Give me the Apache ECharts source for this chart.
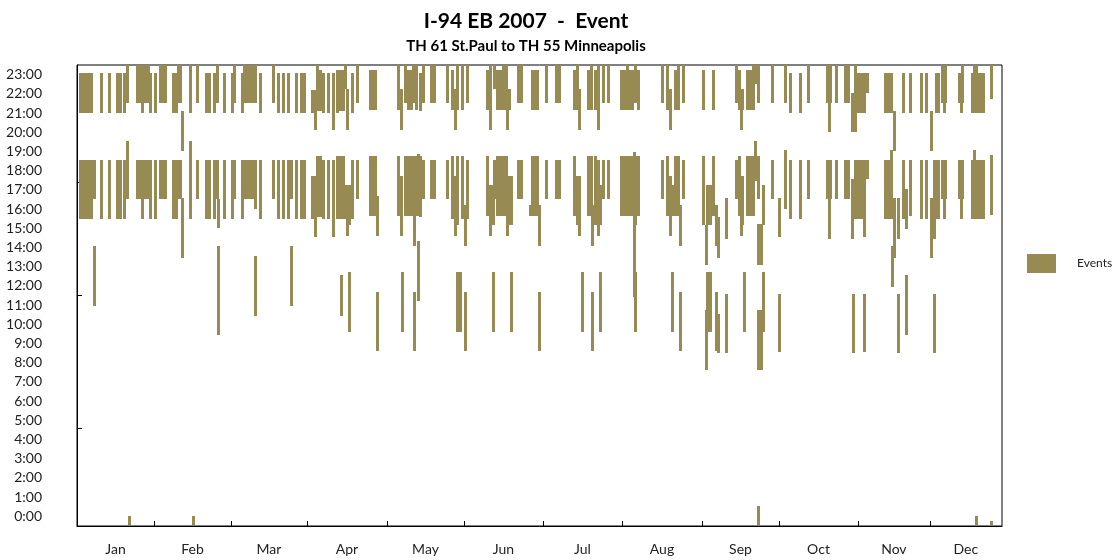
<!DOCTYPE html>
<html><head><meta charset="utf-8">
<script src="https://cdn.jsdelivr.net/npm/echarts@6/dist/echarts.min.js"></script>
<style>html,body{margin:0;padding:0;background:#fff}#c{width:1120px;height:560px}</style>
</head><body><div id="c"></div>
<script>
// x unit: day slot (position along the year as drawn in the reference)
const months = ['Jan','Feb','Mar','Apr','May','Jun','Jul','Aug','Sep','Oct','Nov','Dec'];
const monthBounds = [0,30.8,61.6,92,124,154.8,186.3,218,250,280.8,312.4,341.1,370];
const hourTicks = [0,1,2,3,4,5,6,7,8,9,10,11,12,13,14,15,16,17,18,19,20,21,22,23];
const leftAxisMarks = [4.6,11.5,17.4];
// events: [day slot, start hour, end hour]
const events = [
[1.3,21.0,23.1],[1.3,15.5,18.55],[2.4,21.0,23.1],[2.4,15.5,18.55],[3.5,21.0,23.1],[3.5,15.5,18.55],
[4.6,21.0,23.1],[4.6,15.5,18.55],[5.7,21.0,23.1],[5.7,15.5,18.55],[6.8,16.5,18.55],[6.8,10.95,14.1],
[9.7,21.0,23.1],[9.7,15.5,18.55],[12.9,21.0,23.1],[12.9,15.5,18.55],[16.3,21.0,23.1],[16.3,15.5,18.55],
[17.5,21.0,23.1],[17.5,15.5,18.55],[18.9,21.0,23.1],[18.9,15.5,18.55],[20.1,21.5,23.5],[20.1,16.5,19.55],
[20.9,-0.45,0.03],
[24.1,21.5,23.5],[24.1,16.5,18.55],[25.3,21.5,23.5],[25.3,16.5,18.55],[26.1,21.0,23.5],[26.1,15.5,18.55],
[27.2,21.5,23.5],[27.2,16.5,18.55],[28.4,21.5,23.5],[28.4,16.5,18.55],[29.3,21.0,23.1],[29.3,15.5,18.55],
[31.3,21.0,23.1],[31.3,15.5,18.55],[33.3,21.5,23.5],[33.3,16.5,18.55],[34.5,21.5,23.5],[34.5,16.5,18.55],
[35.3,21.5,23.5],[35.3,16.5,18.55],[38.5,21.0,23.1],[38.5,15.5,18.55],[39.7,21.0,23.1],[39.7,15.5,18.55],
[40.5,21.5,23.5],[40.5,16.5,18.55],[41.5,21.5,23.5],[41.5,16.5,18.55],[42.3,19.0,21.1],[42.3,13.45,16.6],
[45.5,21.0,23.5],[45.5,15.5,19.55],[46.5,-0.45,0.03],[48.3,21.5,23.5],[48.3,16.5,18.55],
[51.7,21.0,23.1],[51.7,15.5,18.55],[52.9,21.0,23.1],[52.9,15.5,18.55],[54.9,21.0,23.1],[54.9,15.5,18.55],
[56.1,21.5,23.5],[56.1,16.5,18.55],[56.5,15.0,16.5],[56.5,9.45,14.1],[58.9,21.0,23.1],[58.9,15.5,18.55],
[62.1,21.0,23.1],[62.1,15.5,18.55],[62.9,21.5,23.5],[62.9,16.5,18.55],[66.1,21.0,23.1],[66.1,15.5,18.55],
[66.9,21.5,23.5],[66.9,16.5,18.55],[68.0,21.5,23.5],[68.0,16.5,18.55],[69.1,21.5,23.5],[69.1,16.5,18.55],
[70.2,21.5,23.5],[70.2,16.5,18.55],[71.3,21.5,23.5],[71.3,16.0,18.55],[71.3,10.45,13.55],
[73.3,21.0,23.1],[73.3,15.5,18.55],[78.5,21.5,23.5],[78.5,16.5,18.55],[80.5,21.0,23.1],[80.5,15.5,18.55],
[82.5,21.0,23.1],[82.5,15.5,18.55],[84.5,21.0,23.1],[84.5,15.5,18.55],[85.7,16.5,18.55],[85.7,10.95,14.1],
[87.7,21.0,23.1],[87.7,15.5,18.55],[89.7,21.0,23.1],[89.7,15.5,18.55],[90.9,21.0,23.1],[90.9,15.5,18.55],
[94.1,21.0,22.2],[94.1,15.5,17.7],[95.3,20.1,22.2],[95.3,14.55,17.7],[96.3,21.1,23.5],[96.3,15.6,18.75],
[97.5,21.1,23.25],[97.5,15.6,18.75],[98.7,21.0,23.1],[98.7,15.5,18.55],[100.7,21.0,23.1],[100.7,15.5,18.55],
[102.7,20.1,23.1],[102.7,14.55,18.55],
[104.1,21.0,23.25],[104.1,15.5,18.75],[105.3,21.1,23.25],[105.3,15.5,18.75],[105.7,10.45,12.55],
[106.5,21.1,23.25],[106.5,15.5,18.75],[107.5,22.25,23.5],[107.5,15.5,17.25],[108.3,20.1,22.25],[108.3,14.6,17.25],
[109.1,15.15,17.25],[109.1,9.6,12.7],[110.3,21.0,23.1],[110.3,15.5,18.55],[112.3,21.5,23.5],[112.3,16.5,18.55],
[117.3,21.15,23.25],[117.3,15.65,18.75],[118.5,21.15,23.25],[118.5,15.65,18.75],[119.3,21.15,23.25],[119.3,15.65,18.75],
[120.1,14.6,16.7],[120.1,8.6,11.7],
[128.7,21.15,23.5],[128.7,15.65,18.75],[129.9,20.1,22.25],[129.9,14.6,17.7],[130.1,9.6,12.7],
[131.5,21.5,23.5],[131.5,15.65,18.75],[132.7,21.15,23.25],[132.7,15.65,18.75],[133.7,21.15,23.25],[133.7,15.65,18.75],
[134.5,21.5,23.5],[134.5,15.65,18.75],[134.9,14.1,16.5],[134.9,8.6,11.7],[135.7,21.15,23.5],[135.7,15.65,18.75],
[136.5,15.65,18.85],[136.5,11.2,14.35],[137.5,21.1,23.1],[137.5,15.6,18.75],[138.7,21.5,23.5],[138.7,16.5,18.55],
[141.7,21.5,23.5],[141.7,16.5,18.55],[142.9,21.5,23.5],[142.9,16.5,18.55],[148.1,21.5,23.5],[148.1,16.5,18.55],
[150.1,21.15,23.25],[150.1,15.5,18.75],[151.3,20.1,22.25],[151.3,14.6,17.7],
[152.3,21.15,23.5],[152.3,15.15,18.75],[152.3,9.6,12.7],[153.5,9.6,12.7],
[154.3,21.15,23.5],[154.3,15.5,18.75],[155.5,14.1,16.2],[155.5,8.6,11.7],[156.3,21.5,23.5],[156.3,15.5,18.55],
[164.3,21.15,23.25],[164.3,15.65,18.75],[165.5,20.1,23.5],[165.5,14.6,17.25],[166.5,15.15,17.25],[166.5,9.6,12.7],
[167.1,22.25,23.5],[167.1,16.5,18.55],[168.3,21.15,23.25],[168.3,15.65,18.75],[169.5,21.15,23.25],[169.5,15.65,18.75],
[170.7,21.15,23.5],[170.7,15.65,18.75],[171.9,21.15,23.5],[171.9,15.65,18.75],[172.1,20.1,21.15],[172.1,14.6,17.7],
[173.1,21.15,22.25],[173.1,15.15,17.7],[173.7,15.15,17.7],[173.7,9.6,12.7],
[176.5,21.5,23.5],[176.5,16.5,18.55],[177.7,21.5,23.5],[177.7,16.5,18.55],[181.5,15.65,16.2],
[182.1,21.15,23.25],[182.1,15.65,18.75],[183.3,21.15,23.25],[183.3,15.65,18.75],[184.1,21.15,23.25],[184.1,15.65,18.75],
[184.9,14.1,16.2],[184.9,8.6,11.7],[187.9,21.5,23.5],[187.9,16.5,18.55],
[191.9,21.5,23.5],[191.9,16.5,18.55],[193.1,21.5,23.5],[193.1,16.5,18.55],
[199.1,21.15,23.25],[199.1,15.65,18.75],[200.3,21.15,23.5],[200.3,15.15,17.7],[201.1,20.1,22.25],[201.1,14.6,17.7],
[202.1,9.6,12.7],[204.5,21.15,23.25],[204.5,15.65,18.75],[205.7,21.15,23.5],[205.7,15.65,18.75],
[206.3,14.1,16.2],[206.3,8.6,11.7],[207.3,21.15,23.25],[207.3,15.15,18.75],[208.5,20.1,23.5],[208.5,14.6,18.55],
[209.3,15.15,17.25],[209.3,9.6,12.7],[210.5,21.5,23.5],[210.5,16.5,18.55],[212.5,21.5,23.5],[212.5,16.5,18.55],
[217.7,21.15,23.25],[217.7,15.65,18.75],[218.9,21.15,23.25],[218.9,15.65,18.75],[220.1,21.15,23.5],[220.1,15.65,18.75],
[221.3,21.15,23.25],[221.3,15.65,18.75],[222.1,21.15,23.25],[222.1,15.65,18.75],[222.9,14.5,18.98],[222.9,11.4,14.5],
[223.5,21.5,23.5],[223.5,15.15,18.75],[223.5,9.6,12.7],[224.7,21.15,23.25],[224.7,15.65,18.75],
[234.1,21.5,23.5],[234.1,16.5,18.55],[236.1,21.15,23.5],[236.1,15.65,18.75],[237.3,20.1,22.25],[237.3,14.6,17.7],
[238.1,15.65,17.25],[238.1,9.6,12.7],[239.3,21.15,23.25],[239.3,15.65,18.75],[240.5,21.15,23.5],[240.5,15.65,18.75],
[241.3,14.1,16.2],[241.3,8.6,11.7],[242.5,21.5,23.5],[242.5,16.5,18.55],
[250.5,21.15,23.25],[250.5,15.15,18.75],[251.7,13.1,15.15],[251.7,7.6,10.75],[252.1,15.15,17.25],[252.1,9.6,12.7],
[253.3,15.15,17.25],[253.3,9.6,12.7],[254.5,21.15,23.25],[254.5,15.65,18.75],[255.7,14.1,16.2],[255.7,8.6,11.7],
[256.5,13.45,15.6],[256.5,8.5,10.55],[259.7,14.45,16.6],[259.7,8.5,11.6],
[263.7,21.5,23.5],[263.7,16.5,18.55],[264.9,21.15,23.25],[264.9,15.65,18.75],[265.7,20.1,22.25],[265.7,14.6,17.7],
[266.1,21.15,22.25],[266.1,15.15,17.7],[266.9,9.6,12.7],
[268.3,21.15,23.25],[268.3,15.65,18.75],[269.5,21.15,23.25],[269.5,15.65,18.75],[270.7,21.15,23.5],[270.7,15.65,18.75],
[271.5,22.5,23.5],[271.5,17.45,19.55],
[272.7,21.5,23.5],[272.7,16.5,18.75],[272.7,13.1,15.2],[272.7,7.6,10.75],[272.7,-0.45,0.55],
[273.9,13.1,15.2],[273.9,7.6,10.75],[274.7,15.15,17.25],[274.7,9.6,12.7],
[278.1,21.5,23.5],[278.1,16.5,18.55],[281.1,14.55,16.6],[281.1,8.55,11.6],[283.3,21.5,23.5],[283.3,16.0,19.1],
[285.3,21.0,23.1],[285.3,15.5,18.55],[289.3,21.0,23.1],[289.3,15.5,18.55],[292.5,21.5,23.5],[292.5,16.5,18.55],
[300.3,21.5,23.5],[300.3,16.5,18.55],[301.1,20.0,21.5],[301.1,14.45,16.5],[301.5,21.5,23.5],[301.5,16.5,18.55],
[303.7,21.5,23.5],[303.7,16.5,18.55],[307.5,21.5,23.5],[307.5,16.5,18.55],[308.7,21.5,23.5],[308.7,16.5,18.55],
[310.1,20.0,22.05],[310.1,14.45,17.55],[310.5,8.5,11.6],[311.5,20.0,23.5],[311.5,15.5,18.55],
[312.7,21.0,23.1],[312.7,15.5,18.55],[313.9,21.0,23.1],[313.9,15.5,18.55],
[315.1,21.0,23.1],[315.1,14.56,18.55],[315.1,8.55,11.6],[316.0,22.05,23.1],[316.0,17.55,18.55],
[323.3,21.0,23.1],[323.3,15.5,18.55],[324.7,21.0,23.1],[324.7,15.5,18.55],[325.7,21.0,23.1],[325.7,15.5,19.08],
[326.1,11.95,14.1],[327.1,19.0,21.1],[327.1,13.45,16.6],[328.7,14.45,16.6],[328.7,8.5,11.6],
[330.5,21.0,23.1],[330.5,15.5,18.55],[331.9,14.96,17.05],[331.9,9.45,12.55],[333.3,21.0,23.1],[333.3,15.65,18.55],
[337.7,21.0,23.1],[337.7,15.5,18.55],[339.7,21.0,23.1],[339.7,15.5,18.55],[341.7,19.0,21.1],[341.7,13.45,16.6],
[343.1,14.45,18.55],[343.1,8.5,11.6],[343.9,21.0,23.1],[343.9,15.5,18.55],[344.7,21.0,23.1],[344.7,15.5,18.55],
[346.3,21.5,23.5],[346.3,16.5,18.55],[346.9,21.0,23.5],[346.9,15.5,18.55],[347.5,21.5,23.5],[347.5,16.5,18.55],
[353.1,21.5,23.1],[353.1,16.5,18.55],[353.7,21.0,21.5],[353.7,15.5,18.55],[354.3,21.5,23.5],[354.3,16.5,18.55],
[358.1,21.0,23.1],[358.1,15.5,18.55],[358.9,21.0,23.5],[358.9,15.5,19.1],
[359.7,21.0,23.5],[359.7,15.5,18.55],[359.7,-0.45,0.03],
[360.5,21.0,23.1],[360.5,15.5,18.55],[361.7,21.0,23.1],[361.7,15.5,18.55],[362.5,21.0,23.1],[362.5,15.5,18.55],
[365.7,21.75,23.5],[365.7,15.7,18.83],[365.7,-0.45,-0.23]
];

const BAR_COLOR = '#978b53';
const BAR_W = 1.2;
const FONT = 'Lato, "Noto Sans", sans-serif';
const monthMids = months.map((m, i) => (monthBounds[i] + monthBounds[i + 1]) / 2);

const chart = echarts.init(document.getElementById('c'), null, {renderer: 'canvas'});
chart.setOption({
  animation: false,
  backgroundColor: '#fff',
  title: [
    {text: 'I-94 EB 2007  -  Event', left: 521, top: 6, textAlign: 'center',
     textStyle: {fontFamily: FONT, fontSize: 21, fontWeight: 'bold', color: '#000'}},
    {text: 'TH 61 St.Paul to TH 55 Minneapolis', left: 521, top: 34, textAlign: 'center',
     textStyle: {fontFamily: FONT, fontSize: 15, fontWeight: 'bold', color: '#000'}}
  ],
  legend: {
    data: [{name: 'Events', icon: 'rect'}],
    left: 1022, top: 249, itemWidth: 29, itemHeight: 19,
    textStyle: {fontFamily: FONT, fontSize: 12, color: '#222', padding: [0, 0, 0, 16]}
  },
  grid: {left: 77, right: 118, top: 65, bottom: 34, show: true, borderColor: '#000', borderWidth: 1, backgroundColor: '#fff'},
  xAxis: {
    type: 'value', min: 0, max: 370,
    axisLine: {show: true, onZero: false, lineStyle: {color: '#000', width: 1}},
    axisTick: {show: true, inside: true, length: 5, customValues: monthBounds.slice(1, -1), lineStyle: {color: '#000'}},
    axisLabel: {
      customValues: monthMids, margin: 16,
      fontFamily: FONT, fontSize: 14, color: '#222',
      formatter: function (v) {
        let best = 0;
        monthMids.forEach((m, i) => { if (Math.abs(m - v) < Math.abs(monthMids[best] - v)) best = i; });
        return months[best];
      }
    },
    splitLine: {show: false}
  },
  yAxis: {
    type: 'value', min: -0.5, max: 23.5,
    axisLine: {show: true, onZero: false, lineStyle: {color: '#000', width: 1}},
    axisTick: {show: true, inside: true, length: 5, customValues: leftAxisMarks, lineStyle: {color: '#000'}},
    axisLabel: {
      customValues: hourTicks, margin: 35,
      fontFamily: FONT, fontSize: 14, color: '#222',
      formatter: v => Math.round(v) + ':00'
    },
    splitLine: {show: false}
  },
  series: [{
    name: 'Events',
    type: 'custom',
    clip: true,
    itemStyle: {color: BAR_COLOR},
    encode: {x: 0, y: [1, 2]},
    data: events,
    renderItem: function (params, api) {
      const x = api.value(0), s = api.value(1), e = api.value(2);
      const l = api.coord([x - BAR_W / 2, e]);
      const r = api.coord([x + BAR_W / 2, s]);
      const x0 = Math.round(l[0]), x1 = Math.max(Math.round(r[0]), x0 + 2);
      const y0 = Math.round(l[1]), y1 = Math.round(r[1]);
      return {
        type: 'rect',
        shape: {x: x0, y: y0, width: x1 - x0, height: y1 - y0},
        style: {fill: BAR_COLOR}
      };
    }
  }]
});
</script>
</body></html>
